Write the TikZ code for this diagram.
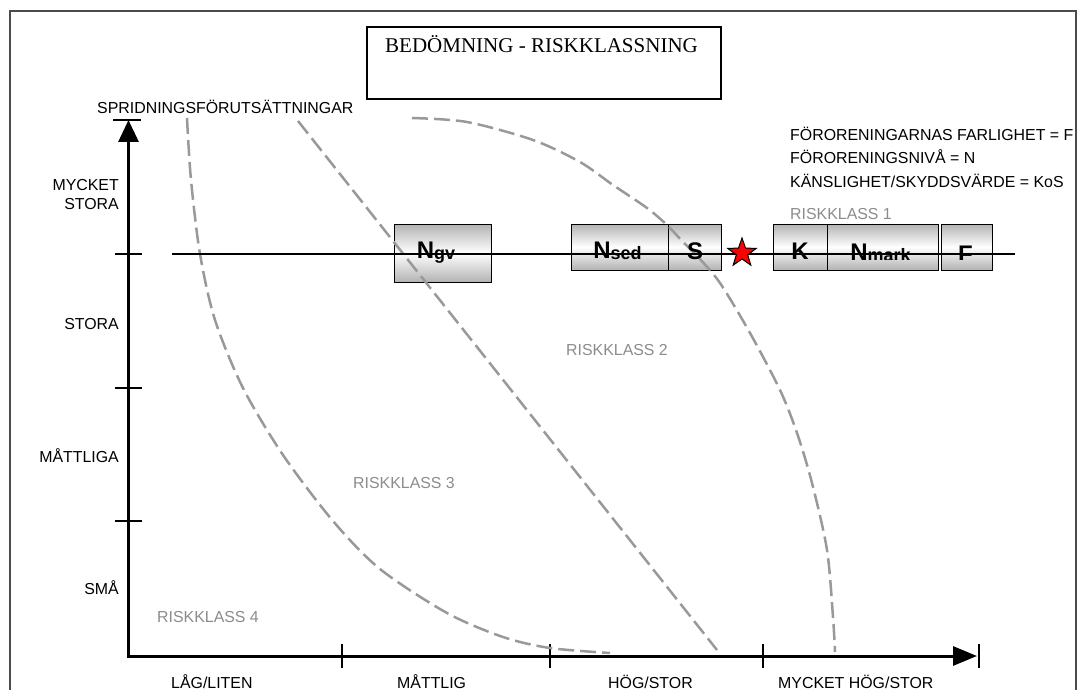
\documentclass[tikz,border=0pt]{standalone}
\usepackage{fontspec}
\setmainfont{Liberation Sans}
\newfontfamily\titlefont{Liberation Serif}
\usetikzlibrary{arrows.meta,shapes.geometric,positioning}
\newcommand{\lowsub}[1]{\raisebox{-1pt}{\fontsize{18}{18}\selectfont #1}}
\tikzset{
  lbl/.style={font=\fontsize{15.9}{19}\selectfont, text height=11pt, text depth=0pt, inner sep=0pt},
  klass/.style={lbl, text=black!45, anchor=west},
  cell/.style={draw=black, line width=0.8pt, top color=black!30, bottom color=black!30, middle color=white, inner sep=0pt, minimum height=46pt},
  celltext/.style={font=\fontsize{24}{24}\selectfont\bfseries, inner sep=0pt, anchor=base},
  axis/.style={line width=3pt, line join=miter},
  tick/.style={line width=2.5pt},
  zone/.style={draw=black!40, line width=2.5pt, dash pattern=on 16pt off 6pt},
}

\begin{document}
\begin{tikzpicture}[x=1pt,y=-1pt]
  \useasboundingbox (0,0) rectangle (1079,690);
  \draw[black!70, line width=1.2pt] (10,690) -- (10,11) -- (1076,11) -- (1076,690);
  \node[draw, line width=2pt, minimum width=354pt, minimum height=72pt, inner sep=0pt] (titlebox) at (544,63) {};
  \node[font=\titlefont\fontsize{21}{21}\selectfont, text height=14pt, text depth=0pt, inner sep=0pt, anchor=west] (title) at (385,45.5) {BEDÖMNING - RISKKLASSNING};

  % axes
  \coordinate (O) at (128.5,656);
  \coordinate (ytop) at (128.5,120);
  \coordinate (xend) at (977,656);
  \draw[axis, arrows={Triangle[length=22pt,width=20pt]-Triangle[length=24pt,width=19pt]}] (ytop) -- (O) -- (xend);
  \draw[tick] ([xshift=-15.5pt]ytop) -- ([xshift=12.5pt]ytop);
  \foreach \y in {254,388,521}
    \draw[tick] (115,\y) -- (142,\y);
  \foreach \x in {342,550,763,979}
    \draw[tick] (\x,644) -- (\x,668);

  \node[lbl, anchor=west] (spridning) at (97,108) {SPRIDNINGSFÖRUTSÄTTNINGAR};
  \node[font=\fontsize{15.9}{19}\selectfont, inner sep=0pt, align=right, anchor=east] (mycketstora) at (119,195) {MYCKET\\STORA};
  \node[lbl, anchor=east] (stora) at (119,324) {STORA};
  \node[lbl, anchor=east] (mattliga) at (119,457) {MÅTTLIGA};
  \node[lbl, anchor=east] (sma) at (119,589) {SMÅ};
  \node[lbl, anchor=west] (lag) at (171,683) {LÅG/LITEN};
  \node[lbl, anchor=west] (mattlig) at (397,683) {MÅTTLIG};
  \node[lbl, anchor=west] (hog) at (608,683) {HÖG/STOR};
  \node[lbl, anchor=west] (mhog) at (778,683) {MYCKET HÖG/STOR};

  % legend
  \node[lbl, anchor=west] (legF) at (790,135) {FÖRORENINGARNAS FARLIGHET = F};
  \node[lbl, anchor=west] (legN) at (790,158) {FÖRORENINGSNIVÅ = N};
  \node[lbl, anchor=west] (legK) at (790,182) {KÄNSLIGHET/SKYDDSVÄRDE = KoS};

  % boxes
  \node[cell, minimum width=97pt, minimum height=58pt] (ngv) at (442.5,253) {};
  \node[cell, minimum width=97pt] (nsed) at (619.5,247) {};
  \node[cell, minimum width=53pt, right=0pt of nsed] (s) {};
  \node[cell, minimum width=54pt] (k) at (800,247) {};
  \node[cell, minimum width=111pt, right=0pt of k] (nmark) {};
  \node[cell, minimum width=51pt, right=2pt of nmark] (f) {};

  % risk class borders
  \draw[zone] plot[smooth] coordinates {(187,118) (191,180) (200,254) (215,320) (243,388) (283,455) (333,521) (380,569) (447,613) (503,637) (550,648) (610,653)};
  \draw[zone] (298,121) -- (717,650);
  \draw[zone] plot[smooth] coordinates {(412,118) (467,122) (533,140) (580,162) (613,185) (647,208) (667,225) (683,242) (698,257) (720,283) (750,333) (780,390) (797,433) (812,483) (827,550) (833,617) (835,652)};

  \coordinate (lineL) at (172,254);
  \coordinate (lineR) at (1015,254);
  \draw[line width=1.2pt] (lineL) -- (lineR);
  \node[star, star points=5, star point ratio=2.5, minimum size=30pt, inner sep=0pt, fill=red, draw=black, line width=1pt] (riskstar) at (742,253) {};

  \node[celltext] (ngvtext) at (436,258) {N\lowsub{gv}};
  \node[celltext] (nsedtext) at (617.5,258) {N\lowsub{sed}};
  \node[celltext] (stext) at (695,259.5) {S};
  \begin{scope}
    \clip (773,224) rectangle (991,259.5);
    \node[celltext] (ktext) at (800,259) {K};
    \node[celltext] (nmarktext) at (880.5,260.5) {N\lowsub{mark}};
    \node[celltext] (ftext) at (965.5,262) {F};
  \end{scope}

  \node[klass] (rk1) at (790,214) {RISKKLASS 1};
  \node[klass] (rk2) at (566,350) {RISKKLASS 2};
  \node[klass] (rk3) at (353,483) {RISKKLASS 3};
  \node[klass] (rk4) at (157,617) {RISKKLASS 4};
\end{tikzpicture}
\end{document}
